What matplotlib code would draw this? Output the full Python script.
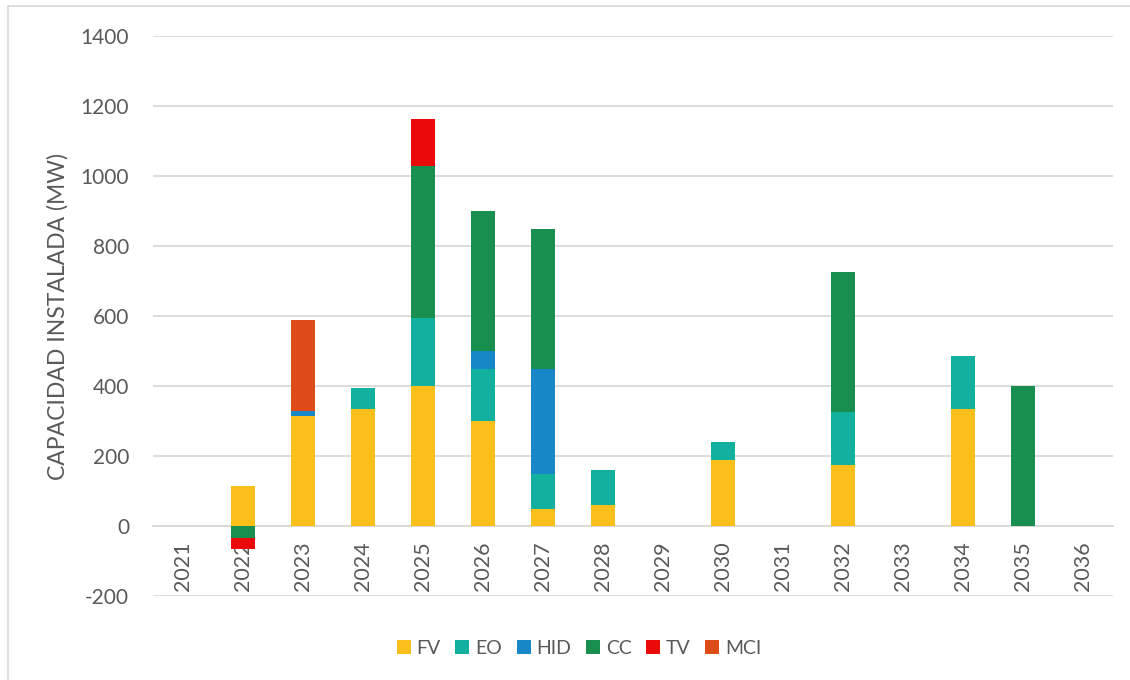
import matplotlib
matplotlib.use("Agg")
import matplotlib.pyplot as plt
from matplotlib.patches import Patch
from matplotlib.lines import Line2D
import numpy as np

plt.rcParams['font.family'] = ['Lato', 'DejaVu Sans']
plt.rcParams['axes.unicode_minus'] = False

years = ['2021', '2022', '2023', '2024', '2025', '2026', '2027', '2028',
         '2029', '2030', '2031', '2032', '2033', '2034', '2035', '2036']

# Installed capacity additions per technology (MW)
FV  = [0, 115, 313, 335, 400, 300, 50, 60, 0, 190, 0, 175, 0, 335, 0, 0]
EO  = [0, 0, 0, 60, 193, 150, 100, 100, 0, 50, 0, 150, 0, 150, 0, 0]
HID = [0, 0, 15, 0, 0, 50, 300, 0, 0, 0, 0, 0, 0, 0, 0, 0]
CC  = [0, -35, 0, 0, 435, 400, 400, 0, 0, 0, 0, 400, 0, 0, 400, 0]
TV  = [0, -30, 0, 0, 135, 0, 0, 0, 0, 0, 0, 0, 0, 0, 0, 0]
MCI = [0, 0, 262, 0, 0, 0, 0, 0, 0, 0, 0, 0, 0, 0, 0, 0]

series = [('FV', FV, '#FBBF1B'),
          ('EO', EO, '#12B09E'),
          ('HID', HID, '#1787C8'),
          ('CC', CC, '#188F4E'),
          ('TV', TV, '#EB0A0A'),
          ('MCI', MCI, '#DE4A18')]

W, H = 1130, 680
fig = plt.figure(figsize=(W / 100, H / 100), dpi=100)
ax = fig.add_axes([152.7 / W, 1 - 596 / H, 960 / W, 560 / H])

x = np.arange(len(years))
pos_base = np.zeros(len(years))
neg_base = np.zeros(len(years))
for name, vals, color in series:
    v = np.array(vals, dtype=float)
    bottom = np.where(v >= 0, pos_base, neg_base)
    ax.bar(x, v, width=0.4, bottom=bottom, color=color, label=name,
           zorder=3, edgecolor='none')
    pos_base += np.where(v >= 0, v, 0)
    neg_base += np.where(v < 0, v, 0)

ax.set_xlim(-0.5, len(years) - 0.5)
ax.set_ylim(-200, 1400)
ax.set_yticks(np.arange(-200, 1401, 200))
ax.grid(axis='y', color='#D9D9D9', linewidth=1.3, zorder=0)
ax.set_axisbelow(True)

for s in ['top', 'right', 'left']:
    ax.spines[s].set_visible(False)
ax.spines['bottom'].set_position(('data', 0))
ax.spines['bottom'].set_color('#D9D9D9')
ax.spines['bottom'].set_linewidth(1.3)
ax.spines['bottom'].set_zorder(2)

ax.set_xticks(x)
ax.set_xticklabels(years, rotation=90, va='top', ha='center')
ax.tick_params(axis='x', length=0, pad=11, labelsize=15.5, labelcolor='#595959')
ax.tick_params(axis='y', length=0, pad=17, labelsize=15, labelcolor='#595959')

ax.set_ylabel('CAPACIDAD INSTALADA (MW)', fontsize=16.5, color='#595959',
              labelpad=9)

handles = [Patch(facecolor=c, edgecolor='none', label=n) for n, _, c in series]
fig.legend(handles=handles, loc='center', ncol=6,
           bbox_to_anchor=(579 / W, 1 - 648 / H), frameon=False,
           fontsize=14, labelcolor='#595959', handlelength=0.72,
           handleheight=0.72, handletextpad=0.3, columnspacing=0.75)

# Light frame around the chart area
fig.add_artist(Line2D([8 / W, 8 / W], [0, 1 - 6 / H], transform=fig.transFigure,
                      color='#D9D9D9', linewidth=1.2))
fig.add_artist(Line2D([8 / W, 1], [1 - 6 / H, 1 - 6 / H], transform=fig.transFigure,
                      color='#D9D9D9', linewidth=1.2))

fig.savefig('out.png', dpi=100)
